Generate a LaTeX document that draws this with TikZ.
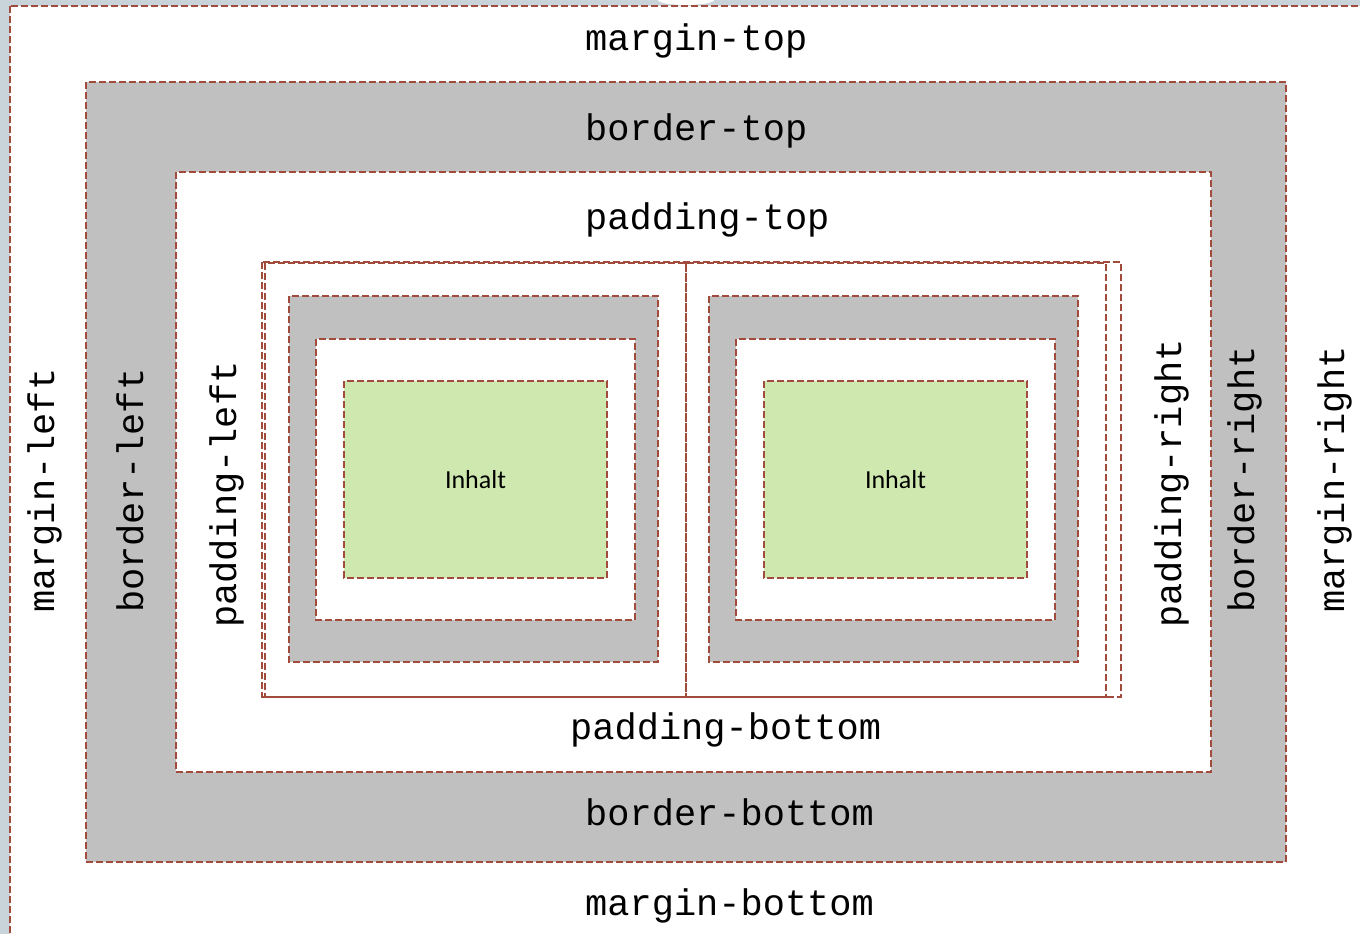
\documentclass[tikz,border=0pt]{standalone}
\usepackage{fontspec}
\setmonofont{Liberation Mono}
\newfontfamily\inhaltfont{Carlito}
\definecolor{rand}{HTML}{A04B3C}
\definecolor{grau}{HTML}{C0C0C0}
\definecolor{gruen}{HTML}{CFE8B0}
\definecolor{hinter}{HTML}{C8D3DA}
\begin{document}
\begin{tikzpicture}[x=1pt,y=-1pt,
    box/.style={draw=rand, dash pattern=on 7pt off 3pt, line width=2pt},
    lbl/.style={font=\fontsize{37}{37}\selectfont\ttfamily, inner sep=0pt, anchor=base west},
    vlbl/.style={lbl, rotate=90},
    inhalt/.style={font=\fontsize{26}{26}\selectfont\inhaltfont}]
    \useasboundingbox (0,0) rectangle (1360,934);
    \fill[hinter] (0,0) rectangle (1360,934);
    \fill[white] (686,0) ellipse (28 and 5);

    % Boxen aussen
    \draw[box, fill=white] (10,6) rectangle (1375,950);
    \draw[box, fill=grau] (86,82) rectangle (1286,862);
    \draw[box, fill=white] (176,172) rectangle (1211,772);

    % Container mit zwei Kindern
    \draw[box] (262,262) rectangle (1121,697);
    \draw[box] (265,263) rectangle (686,697);
    \draw[box] (686,263) rectangle (1106,697);

    % Kinder
    \foreach \dx/\name in {0/links, 420/rechts} {
        \draw[box, fill=grau] (289+\dx,296) rectangle (658+\dx,662);
        \draw[box, fill=white] (316+\dx,339) rectangle (635+\dx,620);
        \draw[box, fill=gruen] (344+\dx,381) rectangle (607+\dx,578);
        \node[inhalt] (inhalt-\name) at (475.5+\dx,479.5) {Inhalt};
    }

    % Beschriftung
    \node[lbl] (mtop) at (585,51) {margin-top};
    \node[lbl] (btop) at (585,140) {border-top};
    \node[lbl] (ptop) at (585,229) {padding-top};
    \node[lbl] (pbot) at (570,739) {padding-bottom};
    \node[lbl] (bbot) at (585,825) {border-bottom};
    \node[lbl] (mbot) at (585,915) {margin-bottom};

    \node[vlbl] (mleft) at (54,613) {margin-left};
    \node[vlbl] (bleft) at (143,613) {border-left};
    \node[vlbl] (pleft) at (236,628) {padding-left};
    \node[vlbl] (pright) at (1181,628) {padding-right};
    \node[vlbl] (bright) at (1254,613) {border-right};
    \node[vlbl] (mright) at (1344,613) {margin-right};
\end{tikzpicture}
\end{document}
